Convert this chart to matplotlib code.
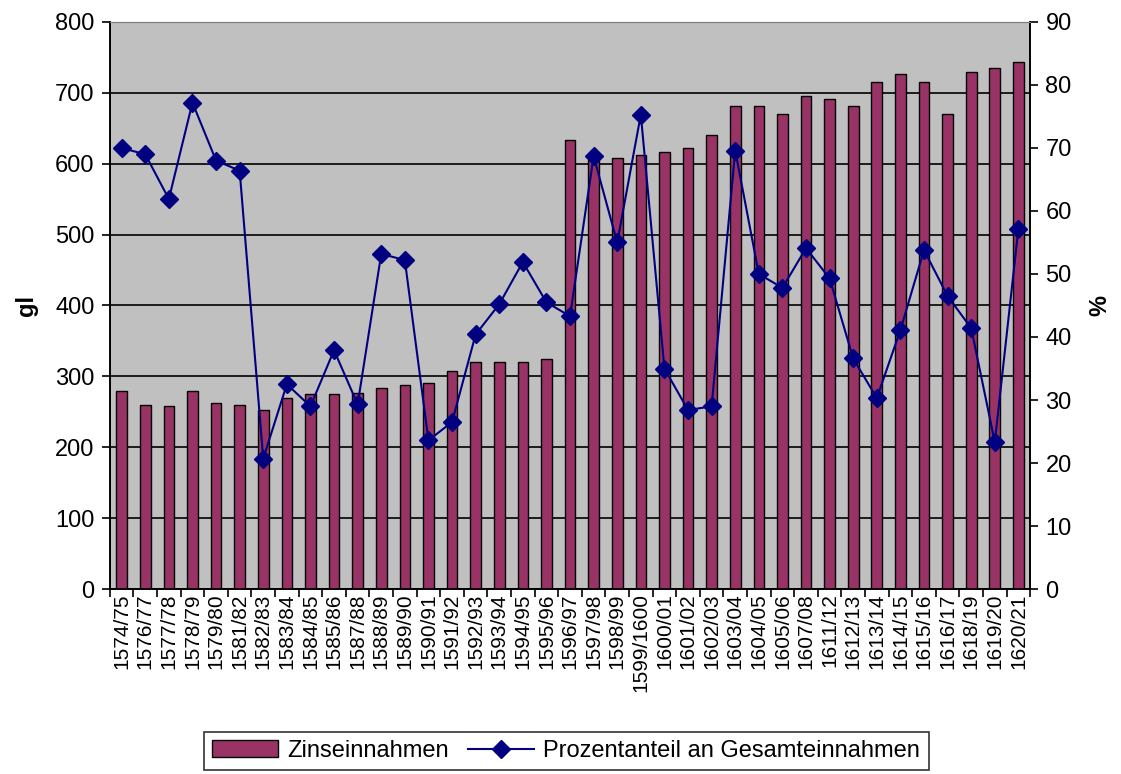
import matplotlib.pyplot as plt
import numpy as np

plt.rcParams['font.family'] = ['Liberation Sans', 'DejaVu Sans']

jahre = ['1574/75', '1576/77', '1577/78', '1578/79', '1579/80', '1581/82', '1582/83',
         '1583/84', '1584/85', '1585/86', '1587/88', '1588/89', '1589/90', '1590/91',
         '1591/92', '1592/93', '1593/94', '1594/95', '1595/96', '1596/97', '1597/98',
         '1598/99', '1599/1600', '1600/01', '1601/02', '1602/03', '1603/04', '1604/05',
         '1605/06', '1607/08', '1611/12', '1612/13', '1613/14', '1614/15', '1615/16',
         '1616/17', '1618/19', '1619/20', '1620/21']

zinseinnahmen = [280, 260, 258, 280, 263, 260, 252, 269, 275, 275, 277, 283, 288, 291,
                 308, 320, 320, 320, 325, 633, 605, 608, 613, 616, 622, 641, 681, 681,
                 670, 695, 692, 681, 715, 726, 715, 670, 729, 735, 743]

prozentanteil = [70.0, 69.0, 61.9, 77.2, 68.0, 66.4, 20.7, 32.5, 29.0, 37.9, 29.3, 53.2,
                 52.2, 23.6, 26.5, 40.4, 45.2, 51.9, 45.5, 43.3, 68.7, 55.0, 75.3, 35.0,
                 28.4, 29.0, 69.6, 50.0, 47.8, 54.1, 49.3, 36.6, 30.3, 41.1, 53.8, 46.5,
                 41.4, 23.3, 57.2]

x = np.arange(len(jahre))

fig = plt.figure(figsize=(11.21, 7.74), dpi=100)
ax = fig.add_axes([0.098, 0.239, 0.821, 0.7326])
ax2 = ax.twinx()

ax.set_facecolor('#C0C0C0')
ax.bar(x, zinseinnahmen, width=0.45, color='#993366', edgecolor='black',
       linewidth=1, label='Zinseinnahmen', zorder=3)
ax.set_ylim(0, 800)
ax.set_yticks(range(0, 801, 100))
ax.yaxis.grid(True, color='black', linewidth=1.2, zorder=1)
ax.set_axisbelow(True)
ax.set_xlim(-0.5, len(jahre) - 0.5)

# Excel-style: tick marks between categories, labels at centres
ax.set_xticks(np.arange(-0.5, len(jahre), 1))
ax.set_xticklabels([])
ax.set_xticks(x, minor=True)
ax.set_xticklabels(jahre, minor=True, rotation=90, fontsize=15)
ax.tick_params(axis='x', which='minor', length=0, pad=3)
ax.tick_params(axis='x', which='major', length=6, width=1.2, direction='out')
ax.tick_params(axis='y', labelsize=17, length=6, width=1.2, direction='out', pad=5)
ax.set_ylabel('gl', fontsize=17, fontweight='bold', labelpad=12)

ax2.plot(x, prozentanteil, color='#000080', marker='D', markersize=9, linewidth=1.5,
         label='Prozentanteil an Gesamteinnahmen', zorder=4)
ax2.set_ylim(0, 90)
ax2.set_yticks(range(0, 91, 10))
ax2.tick_params(axis='y', labelsize=17, length=6, width=1.2, direction='out', pad=5)
ax2.set_ylabel('%', fontsize=17, fontweight='bold', labelpad=12)

for a in (ax, ax2):
    a.spines['top'].set_color('#808080')
    a.spines['left'].set_linewidth(1.2)
    a.spines['right'].set_linewidth(1.2)
    a.spines['bottom'].set_linewidth(1.2)

h1, l1 = ax.get_legend_handles_labels()
h2, l2 = ax2.get_legend_handles_labels()
leg = fig.legend(h1 + h2, l1 + l2, loc='upper center', bbox_to_anchor=(0.505, 0.07),
                 ncol=2, fontsize=17, frameon=True, fancybox=False, edgecolor='black',
                 handlelength=2.8, handletextpad=0.4, columnspacing=0.8, borderpad=0.35)
leg.get_frame().set_linewidth(1.2)

fig.savefig('out.png', dpi=100)
